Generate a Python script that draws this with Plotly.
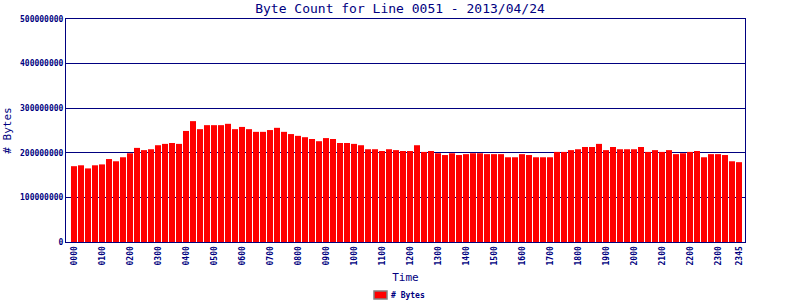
import plotly.graph_objects as go

# 15-minute intervals for the day
times = [f"{h:02d}{m:02d}" for h in range(24) for m in (0, 15, 30, 45)]

# Byte counts
byte_counts = [
    170e6, 172e6, 165e6, 172e6, 174e6, 186e6, 181e6, 190e6,
    199e6, 211e6, 206e6, 208e6, 217e6, 220e6, 222e6, 220e6,
    249e6, 271e6, 253e6, 262e6, 262e6, 262e6, 265e6, 253e6,
    258e6, 253e6, 247e6, 247e6, 251e6, 256e6, 247e6, 242e6,
    238e6, 235e6, 231e6, 226e6, 233e6, 231e6, 222e6, 222e6,
    220e6, 217e6, 208e6, 208e6, 204e6, 208e6, 206e6, 204e6,
    204e6, 217e6, 202e6, 204e6, 199e6, 195e6, 199e6, 195e6,
    197e6, 199e6, 199e6, 197e6, 197e6, 197e6, 190e6, 190e6,
    197e6, 195e6, 190e6, 190e6, 190e6, 202e6, 202e6, 206e6,
    208e6, 213e6, 213e6, 220e6, 206e6, 213e6, 208e6, 208e6,
    208e6, 213e6, 202e6, 206e6, 202e6, 206e6, 197e6, 199e6,
    202e6, 204e6, 190e6, 197e6, 197e6, 195e6, 181e6, 179e6,
]

tick_idx = list(range(0, 96, 4)) + [95]
tick_text = [times[i] for i in tick_idx]
y_ticks = [0, 100000000, 200000000, 300000000, 400000000, 500000000]
series_name = "# Bytes"

NAVY = "#000080"
MONO = "DejaVu Sans Mono"

x_idx = list(range(len(times)))

fig = go.Figure()
fig.add_trace(go.Bar(
    x=x_idx, y=byte_counts, name=series_name,
    marker=dict(color="#FF0000", line=dict(width=0)),
    showlegend=False,
))

# compact legend (swatch + label) below the x-axis title
fig.add_shape(type="rect", xref="paper", yref="paper",
              x0=(374 - 66) / 679, x1=(387 - 66) / 679,
              y0=-(299 - 242) / 223, y1=-(291 - 242) / 223,
              fillcolor="#FF0000", line=dict(color="#808080", width=1.5))
fig.add_annotation(text=series_name, xref="paper", yref="paper",
                   x=(389 - 66) / 679, xanchor="left",
                   y=-(295 - 242) / 223, yanchor="middle", showarrow=False,
                   font=dict(family=MONO, size=8, color=NAVY, weight="bold"))

fig.update_layout(
    width=800, height=300,
    margin=dict(l=66, r=55, t=19, b=58),
    paper_bgcolor="white", plot_bgcolor="white",
    bargap=0.14, showlegend=False,
    title=dict(text="Byte Count for Line 0051 - 2013/04/24",
               x=0.5, xanchor="center", y=1 - 8/300, yanchor="middle",
               font=dict(family=MONO, size=13, color=NAVY)),
    font=dict(family=MONO, color=NAVY),
    xaxis=dict(
        range=[-1.14, 95.86], automargin=False,
        tickmode="array", tickvals=tick_idx, ticktext=tick_text,
        tickangle=-90, tickfont=dict(family=MONO, size=8, color=NAVY, weight="bold"),
        showgrid=False, showline=True, linecolor=NAVY, linewidth=1, mirror=True,
        ticks="", zeroline=False,
        title=dict(text="Time", font=dict(family=MONO, size=11, color=NAVY), standoff=8),
    ),
    yaxis=dict(
        range=[0, 500000000], automargin=False,
        tickmode="array", tickvals=y_ticks, ticktext=[str(v) for v in y_ticks],
        tickfont=dict(family=MONO, size=8, color=NAVY, weight="bold"),
        showgrid=True, gridcolor=NAVY, gridwidth=1,
        showline=True, linecolor=NAVY, linewidth=1, mirror=True,
        ticks="", zeroline=False,
        title=dict(text="# Bytes", font=dict(family=MONO, size=11, color=NAVY), standoff=6),
    ),
)

fig.write_html("out.html")
